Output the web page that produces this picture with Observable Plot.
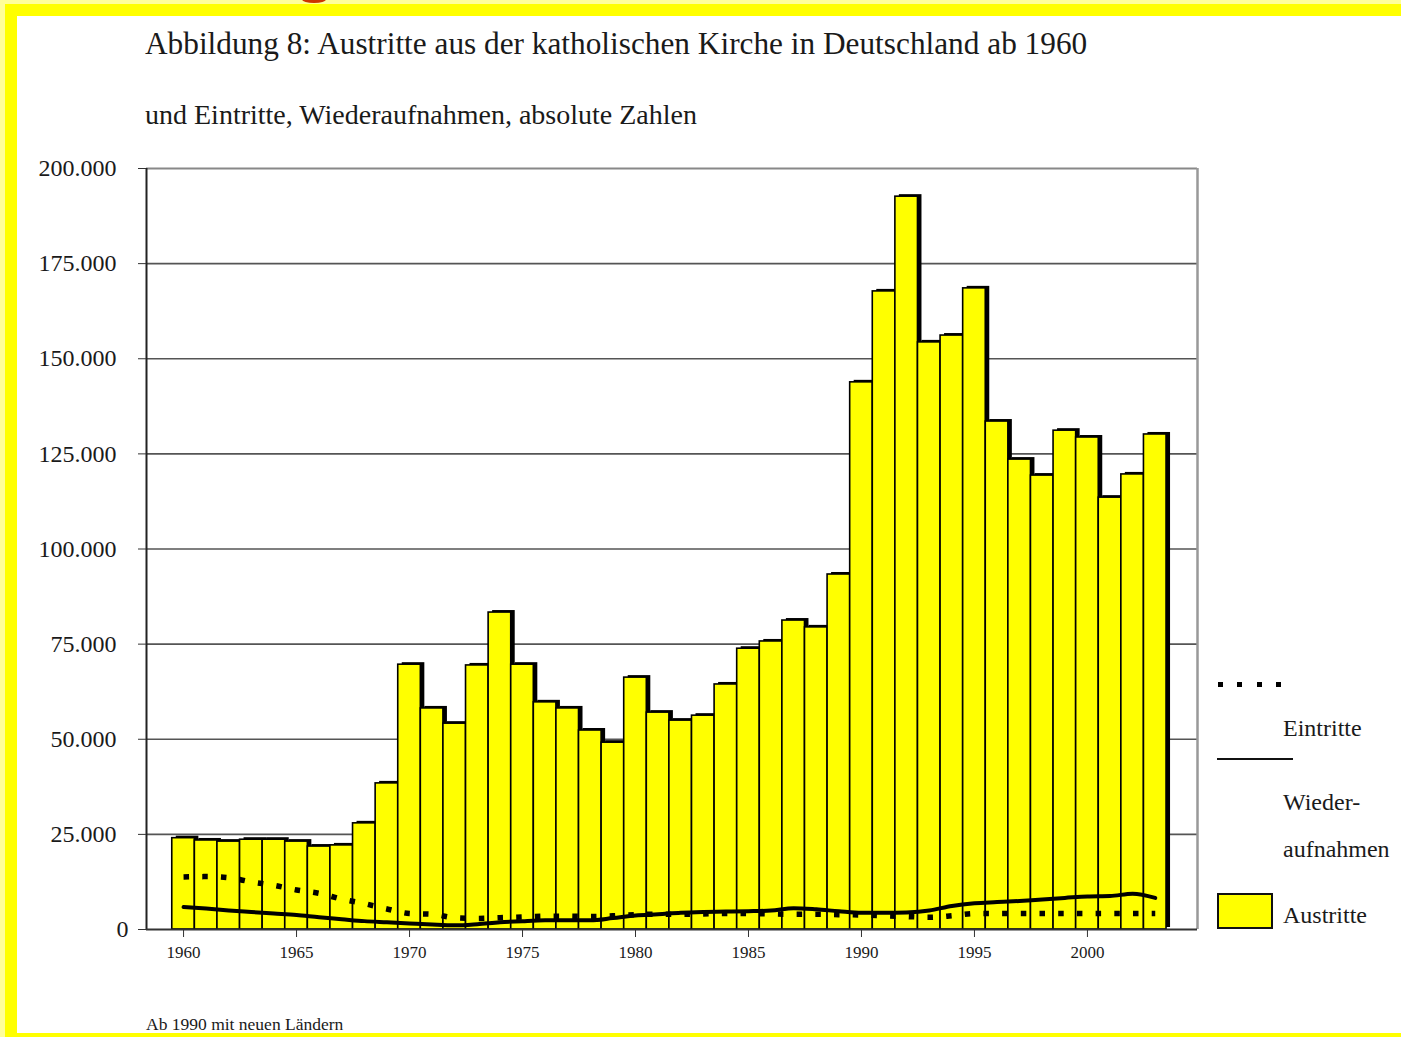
<!DOCTYPE html>
<html>
<head>
<meta charset="utf-8">
<script src="https://cdn.jsdelivr.net/npm/d3@7"></script>
<script src="https://cdn.jsdelivr.net/npm/@observablehq/plot@0.6"></script>
<style>
  html, body { margin: 0; padding: 0; }
  body { width: 1401px; height: 1037px; position: relative; overflow: hidden; background: #ffff99;
         font-family: "Liberation Serif", "DejaVu Serif", serif; color: #1a1a1a; }
  #yband { position: absolute; left: 5px; top: 4px; right: 0; bottom: 0; background: #ffff00; }
  #page { position: absolute; left: 17px; top: 16px; right: 0; bottom: 4px; background: #fff; }
  #redmark { position: absolute; left: 302px; top: -4px; width: 24px; height: 7px; border-radius: 50%; background: #cc3300; }
  .txt { position: absolute; white-space: nowrap; line-height: 1; }
  #title { left: 145px; top: 28px; font-size: 31.3px; }
  #subtitle { left: 145px; top: 101px; font-size: 28px; }
  #chart { position: absolute; left: 0; top: 140px; }
  .leg { font-size: 24px; left: 1283px; }
  #legDots { position: absolute; left: 1218px; top: 682px; width: 64px; height: 5px;
             background: repeating-linear-gradient(to right, #000 0 5px, transparent 5px 19.5px); }
  #legLine { position: absolute; left: 1217px; top: 758px; width: 76px; height: 2px; background: #111; }
  #legBox { position: absolute; left: 1217px; top: 893px; width: 52px; height: 32px; background: #ffff00; border: 2px solid #111; }
  #foot { left: 146px; top: 1016px; font-size: 17.5px; }
</style>
</head>
<body>
<div id="yband"></div>
<div id="page"></div>
<div id="redmark"></div>
<div class="txt" id="title">Abbildung 8: Austritte aus der katholischen Kirche in Deutschland ab 1960</div>
<div class="txt" id="subtitle">und Eintritte, Wiederaufnahmen, absolute Zahlen</div>
<div id="chart"></div>
<div id="legDots"></div>
<div class="txt leg" style="top:716px">Eintritte</div>
<div id="legLine"></div>
<div class="txt leg" style="top:790px">Wieder-</div>
<div class="txt leg" style="top:837px">aufnahmen</div>
<div id="legBox"></div>
<div class="txt leg" style="top:903px">Austritte</div>
<div class="txt" id="foot">Ab 1990 mit neuen Ländern</div>
<script>
const years = [1960, 1961, 1962, 1963, 1964, 1965, 1966, 1967, 1968, 1969,
               1970, 1971, 1972, 1973, 1974, 1975, 1976, 1977, 1978, 1979,
               1980, 1981, 1982, 1983, 1984, 1985, 1986, 1987, 1988, 1989,
               1990, 1991, 1992, 1993, 1994, 1995, 1996, 1997, 1998, 1999,
               2000, 2001, 2002, 2003];
const austritte = [24000, 23400, 23100, 23600, 23600, 23100, 21800, 22100, 27900, 38400,
                   69600, 58100, 54100, 69400, 83300, 69600, 59700, 58100, 52300, 49100,
                   66200, 57000, 54900, 56200, 64400, 73800, 75700, 81200, 79400, 93300,
                   143800, 167700, 192600, 154300, 156100, 168500, 133500, 123500, 119300, 131100,
                   129300, 113500, 119600, 130100];
const eintritte = [13800, 13900, 13600, 12500, 11600, 10400, 9500, 8000, 6800, 5400,
                   4200, 4000, 3100, 2900, 3100, 3300, 3500, 3500, 3400, 3600,
                   3900, 4000, 4000, 4100, 4200, 4200, 4100, 4000, 4000, 3900,
                   3800, 3600, 3400, 3200, 3600, 4200, 4200, 4200, 4200, 4200,
                   4200, 4200, 4200, 4200];
const wiederaufnahmen = [5900, 5500, 5000, 4600, 4200, 3800, 3200, 2700, 2200, 1900,
                         1600, 1300, 1100, 1400, 1900, 2200, 2400, 2400, 2400, 3000,
                         3700, 4000, 4400, 4600, 4700, 4800, 5000, 5600, 5300, 4800,
                         4400, 4400, 4500, 5000, 6200, 6900, 7200, 7500, 7900, 8300,
                         8700, 8800, 9400, 8300];
const yTicks = [0, 25000, 50000, 75000, 100000, 125000, 150000, 175000, 200000];
const yTickLabels = ["0", "25.000", "50.000", "75.000", "100.000", "125.000", "150.000", "175.000", "200.000"];
const xTicks = [1960, 1965, 1970, 1975, 1980, 1985, 1990, 1995, 2000];

const data = years.map((year, i) => ({
  year, aus: austritte[i], ein: eintritte[i], wie: wiederaufnahmen[i]
}));
const xMin = years[0] - 1.64, xMax = years[years.length - 1] + 1.87;
const yLabel = d => yTickLabels[yTicks.indexOf(d)];

const chart = Plot.plot({
  width: 1401,
  height: 850,
  marginLeft: 146,
  marginRight: 204,
  marginTop: 28,
  marginBottom: 61,
  x: { domain: [xMin, xMax] },
  y: { domain: [0, 200000] },
  style: { fontFamily: '"Liberation Serif", "DejaVu Serif", serif', fontSize: "24px", color: "#1a1a1a", background: "transparent", overflow: "visible" },
  marks: [
    Plot.ruleY(yTicks.filter(d => d > 0 && d < 200000), { stroke: "#555", strokeWidth: 1.6 }),
    Plot.ruleY([200000], { stroke: "#888", strokeWidth: 2 }),
    Plot.ruleX([xMax], { stroke: "#999", strokeWidth: 2.5 }),
    Plot.rectY(data, { x1: d => d.year - 0.5, x2: d => d.year + 0.5, y: "aus", fill: "#000", dx: 4, dy: -2 }),
    Plot.rectY(data, { x1: d => d.year - 0.5, x2: d => d.year + 0.5, y: "aus", fill: "#ffff00", stroke: "#000", strokeWidth: 1.6 }),
    Plot.line(data, { x: "year", y: "wie", stroke: "#000", strokeWidth: 4, curve: "monotone-x" }),
    Plot.line(data, { x: "year", y: "ein", stroke: "#000", strokeWidth: 5.5, strokeDasharray: "5.5 13.2", strokeLinecap: "butt", curve: "monotone-x" }),
    Plot.ruleX([xMin], { stroke: "#222", strokeWidth: 2 }),
    Plot.ruleY([0], { stroke: "#333", strokeWidth: 2 }),
    Plot.axisY({ ticks: yTicks.filter(d => d > 0), tickSize: 8, tickPadding: 22, tickFormat: yLabel, label: null, stroke: "#333", fontSize: 24 }),
    Plot.axisY({ ticks: [0], tickSize: 8, tickPadding: 10, tickFormat: yLabel, label: null, stroke: "#333", fontSize: 24 }),
    Plot.axisX({ ticks: xTicks, tickSize: 8, tickPadding: 8, tickFormat: d => String(d), label: null, stroke: "#333", fontSize: 17 })
  ]
});
document.getElementById("chart").appendChild(chart);
</script>
</body>
</html>
